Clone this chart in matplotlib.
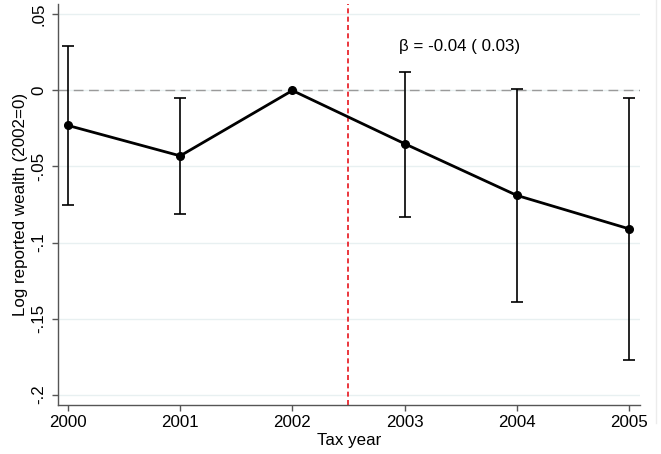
import numpy as np
import matplotlib
matplotlib.use('Agg')
from matplotlib import pyplot as plt
from matplotlib.lines import Line2D

# Data
years = [2000, 2001, 2002, 2003, 2004, 2005]
coef = [-0.023, -0.043, 0.0, -0.035, -0.069, -0.091]
ci_low = [-0.075, -0.081, 0.0, -0.083, -0.139, -0.177]
ci_high = [0.029, -0.005, 0.0, 0.012, 0.001, -0.005]
yticks = [0.05, 0.0, -0.05, -0.1, -0.15, -0.2]
ytick_labels = ['.05', '0', '-.05', '-.1', '-.15', '-.2']
note = '\u03b2 = -0.04 ( 0.03)'

plt.rcParams['font.family'] = ['Liberation Sans', 'DejaVu Sans']
fs = 12.2

fig = plt.figure(figsize=(6.61, 4.54), dpi=100)
ax = fig.add_axes([58/661, 49/454, 582/661, 401/454])

# faint border of the graph region on the right
fig.add_artist(Line2D([656/661, 656/661], [31/454, 1.0], color='#ececec', lw=1))

# Gridlines and reference lines
for t in yticks:
    ax.axhline(t, color='#e8f0f1', lw=1, zorder=0)
ax.axhline(0, color='#9a9a9a', lw=1, ls=(0, (7, 4)), zorder=1)
ax.axvline(2002.5, color='#e8141c', lw=1.2, ls=(0, (3, 2)), zorder=1)

# Confidence intervals (skip the base year)
yrs = np.array(years)
c = np.array(coef)
lo = np.array(ci_low)
hi = np.array(ci_high)
m = lo != hi
ax.errorbar(yrs[m], c[m], yerr=[c[m] - lo[m], hi[m] - c[m]], fmt='none',
            ecolor='black', elinewidth=1.2, capsize=4.5, capthick=1.2, zorder=2)
ax.plot(yrs, c, color='black', lw=2, marker='o', ms=5.5, zorder=3)

ax.text(2003.49, 0.029, note, ha='center', va='center', fontsize=fs)

ax.set_xlim(1999.911, 2005.098)
ax.set_ylim(-0.2069, 0.0569)
ax.set_xticks(years)
ax.set_yticks(yticks)
ax.set_yticklabels(ytick_labels, rotation=90, va='center')
ax.tick_params(labelsize=fs, color='#555555', length=4.5, width=1)
ax.tick_params(axis='x', pad=3)
ax.tick_params(axis='y', pad=4)
ax.set_xlabel('Tax year', fontsize=fs, labelpad=2)
ax.set_ylabel('Log reported wealth (2002=0)', fontsize=fs, labelpad=2)

for s in ['top', 'right']:
    ax.spines[s].set_visible(False)
for s in ['left', 'bottom']:
    ax.spines[s].set_color('#555555')
    ax.spines[s].set_linewidth(1)

fig.savefig('out.png', dpi=100)
